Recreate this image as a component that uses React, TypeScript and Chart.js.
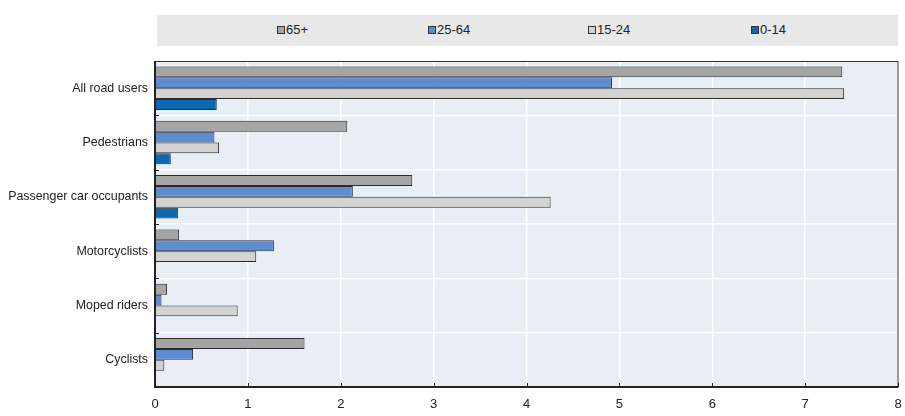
import React, { useEffect, useRef } from "react";
import { Chart, registerables } from "chart.js";

Chart.register(...registerables);

const categories = [
  "All road users",
  "Pedestrians",
  "Passenger car occupants",
  "Motorcyclists",
  "Moped riders",
  "Cyclists",
];
const seriesNames = ["65+", "25-64", "15-24", "0-14"];
const values65plus = [7.4, 2.07, 2.77, 0.26, 0.13, 1.61];
const values25to64 = [4.92, 0.64, 2.13, 1.28, 0.07, 0.41];
const values15to24 = [7.42, 0.69, 4.26, 1.09, 0.89, 0.1];
const values0to14: (number | null)[] = [0.665, 0.17, 0.25, null, null, null];
const xTicks = [0, 1, 2, 3, 4, 5, 6, 7, 8];

const colors = ["#a5a5a7", "#5e8cd2", "#d3d3d3", "#0b69b3"];
const FONT = "'Liberation Sans', Arial, sans-serif";

const frame = {
  id: "frame",
  beforeDraw(chart: any) {
    const { ctx, chartArea: a } = chart;
    ctx.save();
    ctx.fillStyle = "#e9edf6";
    ctx.fillRect(a.left, a.top, a.right - a.left, a.bottom - a.top);
    ctx.restore();
  },
  afterDraw(chart: any) {
    const { ctx, chartArea: a } = chart;
    const y = chart.scales.y;
    const x = chart.scales.x;
    ctx.save();
    ctx.strokeStyle = "#333";
    ctx.lineWidth = 1;
    ctx.strokeRect(a.left, a.top + 0.5, a.right - a.left, a.bottom - a.top);
    ctx.lineWidth = 2;
    ctx.strokeStyle = "#222";
    ctx.beginPath();
    ctx.moveTo(a.left, a.top);
    ctx.lineTo(a.left, a.bottom);
    ctx.lineTo(a.right, a.bottom);
    ctx.stroke();
    ctx.lineWidth = 1;
    const n = categories.length;
    for (let i = 1; i < n; i++) {
      const p = (y.getPixelForValue(i - 1) + y.getPixelForValue(i)) / 2;
      ctx.beginPath();
      ctx.moveTo(a.left, Math.round(p) + 0.5);
      ctx.lineTo(a.left + 4, Math.round(p) + 0.5);
      ctx.stroke();
    }
    xTicks.forEach((t) => {
      const p = Math.round(x.getPixelForValue(t)) + 0.5;
      ctx.beginPath();
      ctx.moveTo(p, a.bottom);
      ctx.lineTo(p, a.bottom - 4);
      ctx.stroke();
    });
    ctx.restore();
  },
};

export default function App() {
  const ref = useRef<HTMLCanvasElement>(null);
  useEffect(() => {
    document.body.style.margin = "0";
    const data = [values65plus, values25to64, values15to24, values0to14];
    const chart = new Chart(ref.current!, {
      type: "bar",
      data: {
        labels: categories,
        datasets: seriesNames.map((name, i) => ({
          label: name,
          data: data[i],
          backgroundColor: colors[i],
          borderColor: "#2b2b2b",
          borderWidth: 1,
          borderSkipped: "left",
          barPercentage: 1,
          categoryPercentage: 0.8,
        })),
      },
      options: {
        indexAxis: "y",
        animation: false,
        responsive: false,
        maintainAspectRatio: false,
        layout: { padding: { top: 61, right: 7, bottom: 0, left: 0 } },
        plugins: { legend: { display: false }, tooltip: { enabled: false } },
        scales: {
          x: {
            min: 0,
            max: 8,
            afterBuildTicks: (s: any) => {
              s.ticks = xTicks.map((v) => ({ value: v }));
            },
            afterFit: (s: any) => {
              s.height = 29;
              s.paddingLeft = 0;
              s.paddingRight = 0;
            },
            grid: { color: "#ffffff", lineWidth: 1.5, drawTicks: false },
            border: { display: false },
            ticks: { color: "#222", font: { family: FONT, size: 13 }, padding: 10 },
          },
          y: {
            afterFit: (s: any) => {
              s.width = 155;
              s.paddingTop = 0;
              s.paddingBottom = 0;
            },
            grid: { color: "#ffffff", lineWidth: 1.5, drawTicks: false, offset: true },
            border: { display: false },
            ticks: { color: "#222", font: { family: FONT, size: 12.4 }, padding: 7 },
          },
        },
      },
      plugins: [frame],
    });
    return () => chart.destroy();
  }, []);

  const legendX = [120, 271, 431, 594];
  return (
    <div style={{ position: "relative", width: 905, height: 416, fontFamily: FONT }}>
      <div
        style={{
          position: "absolute",
          left: 157,
          top: 15,
          width: 741,
          height: 31,
          background: "#e8e8e8",
        }}
      >
        {seriesNames.map((name, i) => (
          <div
            key={name}
            style={{
              position: "absolute",
              left: legendX[i],
              top: 7,
              display: "flex",
              alignItems: "center",
              fontSize: 13,
              color: "#222",
              lineHeight: "16px",
            }}
          >
            <span
              style={{
                display: "inline-block",
                width: 6,
                height: 6,
                background: colors[i],
                border: "1px solid #333",
                marginRight: 1,
              }}
            />
            {name}
          </div>
        ))}
      </div>
      <canvas ref={ref} width={905} height={416} style={{ position: "absolute", left: 0, top: 0 }} />
    </div>
  );
}
